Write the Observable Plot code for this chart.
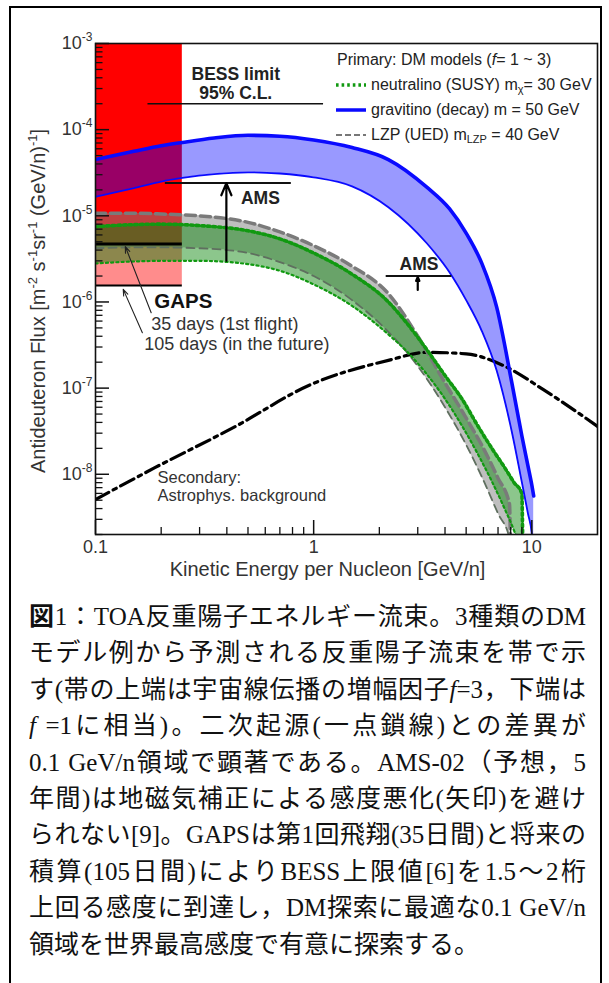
<!DOCTYPE html>
<html lang="ja"><head><meta charset="utf-8">
<script src="https://cdn.jsdelivr.net/npm/d3@7"></script>
<script src="https://cdn.jsdelivr.net/npm/@observablehq/plot@0.6"></script>
<style>
html,body{margin:0;padding:0;background:#fff;}
body{position:relative;width:609px;height:983px;overflow:hidden;}
#frame{position:absolute;left:9px;top:6px;width:593px;height:1010px;border:2px solid #000;box-sizing:border-box;}
#chart{position:absolute;left:0;top:0;}
#legend{position:absolute;left:336px;top:47px;font:16px "Liberation Sans",Arial,sans-serif;color:#222;white-space:nowrap;}
#legend .row{display:flex;align-items:center;height:25px;}
#legend svg{margin-right:5px;flex:none;}
#legend sub{font-size:11px;vertical-align:-3px;line-height:0;}
#caption{position:absolute;left:29px;top:599px;width:557px;font-family:"Liberation Serif","Noto Sans CJK JP",serif;font-size:25px;line-height:36.4px;color:#111;}
#caption .ln{text-align:justify;text-align-last:justify;height:36.4px;overflow:hidden;}
#caption .ln.last{text-align-last:left;}
</style></head><body>
<div id="frame"></div>
<div id="chart"></div>
<div id="legend"></div>
<div id="caption"></div>
<script>
// ---------- data ----------
// gravitino (decay) m = 50 GeV band (f = 3 upper, f = 1 lower)
const gravE  = [0.1, 0.15, 0.2, 0.25, 0.35, 0.5, 0.7, 1.0, 1.5, 2.2, 3.3, 4.2, 5.0, 5.9, 6.9, 8.1, 9.0, 9.6, 10.0, 10.2];
const gravHi = [4.5e-5, 5.6e-5, 6.5e-5, 7.1e-5, 8.0e-5, 8.6e-5, 8.4e-5, 7.6e-5, 6.2e-5, 4.5e-5, 2.15e-5, 1.2e-5, 6.3e-6, 2.8e-6, 8.7e-7, 1.15e-7, 2.8e-8, 1.25e-8, 7.5e-9, 5.6e-9];
const gravLo = [1.66e-5, 2.1e-5, 2.5e-5, 2.75e-5, 3.05e-5, 3.2e-5, 3.1e-5, 2.8e-5, 2.2e-5, 1.26e-5, 4.8e-6, 2.2e-6, 1.05e-6, 4.6e-7, 1.6e-7, 3.1e-8, 8.1e-9, 3.5e-9, 2e-9, 1e-9];
// neutralino (SUSY) m = 30 GeV band
const neutE  = [0.1, 0.15, 0.2, 0.3, 0.5, 0.7, 1.0, 1.5, 2.2, 2.7, 3.3, 4.0, 4.8, 5.6, 6.6, 7.5, 8.3, 9.0, 9.1];
const neutHi = [7.5e-6, 7.9e-6, 8.0e-6, 7.7e-6, 6.7e-6, 5.4e-6, 3.7e-6, 2.1e-6, 1.0e-6, 5.5e-7, 2.8e-7, 1.4e-7, 7.4e-8, 3.8e-8, 1.95e-8, 1.2e-8, 8e-9, 6e-9, 1e-9];
const neutLo = [2.8e-6, 2.95e-6, 3.0e-6, 3.0e-6, 2.75e-6, 2.3e-6, 1.6e-6, 9e-7, 4.2e-7, 2.6e-7, 1.45e-7, 7.5e-8, 3.6e-8, 1.8e-8, 8e-9, 4e-9, 2.2e-9, 1.2e-9, 1e-9];
// LZP (UED) m = 40 GeV band
const lzpE  = [0.1, 0.15, 0.2, 0.3, 0.5, 0.7, 1.0, 1.5, 2.2, 3.0, 4.0, 5.0, 6.0, 7.0, 7.9, 8.0];
const lzpHi = [1.07e-5, 1.07e-5, 1.05e-5, 1.0e-5, 8.4e-6, 6.5e-6, 4.5e-6, 2.6e-6, 1.25e-6, 4.0e-7, 1.15e-7, 4.5e-8, 2.0e-8, 9e-9, 4.5e-9, 1e-9];
const lzpLo = [4.2e-6, 4.3e-6, 4.3e-6, 4.2e-6, 3.7e-6, 2.9e-6, 2.0e-6, 1.05e-6, 4.5e-7, 1.8e-7, 6e-8, 2.2e-8, 8.5e-9, 3.5e-9, 1.8e-9, 1e-9];
// secondary (astrophysical background)
const secE    = [0.1, 0.188, 0.43, 0.97, 2.2, 3.3, 5.0, 7.5, 11.3, 20];
const secFlux = [5.1e-9, 1.2e-8, 3.5e-8, 1.1e-7, 2.1e-7, 2.6e-7, 2.5e-7, 1.8e-7, 9.6e-8, 3.6e-8];
// GAPS sensitivity
const gapsE      = [0.1, 0.25];
const gapsFlux   = [4.7e-6, 1.55e-6];
const gapsLabels = ["35 days (1st flight)", "105 days (in the future)"];
// BESS limit
const bessE = [0.174, 1.11];
const bessFlux = 2.0e-4;
// AMS sensitivities
const amsE = [[0.209, 0.79], [2.15, 4.3]];
const amsFlux = [2.4e-5, 2.0e-6];
const amsArrowE = [0.398, 3.0];
const amsArrowFrom = [3.0e-6, 1.38e-6];
const amsArrowTo = [2.4e-5, 1.95e-6];
// axes
const xDomain = [0.1, 20];
const yDomain = [2e-9, 1e-3];
const xTicks = [0.1, 1, 10];
const xTickLabels = ["0.1", "1", "10"];
const yTicks = [1e-3, 1e-4, 1e-5, 1e-6, 1e-7, 1e-8];
const yTickLabels = ["10^{-3}", "10^{-4}", "10^{-5}", "10^{-6}", "10^{-7}", "10^{-8}"];
const xTitle = "Kinetic Energy per Nucleon [GeV/n]";
const yTitle = "Antideuteron Flux [m^{-2} s^{-1}sr^{-1} (GeV/n)^{-1}]";
const legendTitle = 'Primary: DM models ( <i>f</i> = 1 ~ 3)';
const legendItems = [
  {label: 'neutralino (SUSY) m<sub>χ</sub>= 30 GeV', stroke: "#119911", width: 3.5, dash: "2.6,3"},
  {label: 'gravitino (decay) m = 50 GeV', stroke: "#0a0aff", width: 3.5, dash: null},
  {label: 'LZP (UED) m<sub>LZP</sub> = 40 GeV', stroke: "#777", width: 2.2, dash: "6,3"}
];
const captionLines = [
  '<b>図</b>1：TOA反重陽子エネルギー流束。3種類のDM',
  'モデル例から予測される反重陽子流束を帯で示',
  'す(帯の上端は宇宙線伝播の増幅因子<i>f</i>=3，下端は',
  '<i>f</i> =1に相当)。二次起源(一点鎖線)との差異が',
  '0.1 GeV/n領域で顕著である。AMS-02（予想，5',
  '年間)は地磁気補正による感度悪化(矢印)を避け',
  'られない[9]。GAPSは第1回飛翔(35日間)と将来の',
  '積算(105日間)によりBESS上限値[6]を1.5～2桁',
  '上回る感度に到達し，DM探索に最適な0.1 GeV/n',
  '領域を世界最高感度で有意に探索する。'
];

// ---------- build ----------
const band = (E, hi, lo) => E.map((e, i) => ({e, hi: hi[i], lo: lo[i]}));
const grav = band(gravE, gravHi, gravLo);
const neut = band(neutE, neutHi, neutLo);
const lzp = band(lzpE, lzpHi, lzpLo);
const sec = secE.map((e, i) => ({e, f: secFlux[i]}));
const xMinor = [2,3,4,5,6,7,8,9].flatMap(m => [m * 0.1, m]);
const yMinor = d3.range(-9, -3).flatMap(k => d3.range(2, 10).map(m => m * Math.pow(10, k))).filter(v => v >= yDomain[0] && v < yDomain[1]);
const amsRules = amsE.map((r, i) => ({e1: r[0], e2: r[1], f: amsFlux[i]}));
const amsArrows = amsArrowE.map((e, i) => ({e, f1: amsArrowFrom[i], f2: amsArrowTo[i]}));
const gapsRules = gapsFlux.map((f, i) => ({e1: gapsE[0], e2: gapsE[1], f, w: i === 0 ? 3 : 2}));
const font = "Liberation Sans, Arial, sans-serif";
const C = "monotone-x";

const marks = [
  Plot.rect([0], {x1: gapsE[0], x2: gapsE[1], y1: gapsFlux[0], y2: yDomain[1], fill: "#ff0000"}),
  Plot.rect([0], {x1: gapsE[0], x2: gapsE[1], y1: gapsFlux[1], y2: gapsFlux[0], fill: "#ff8c8c"}),
  Plot.areaY(lzp, {x: "e", y1: "lo", y2: "hi", fill: "#808080", fillOpacity: 0.5, curve: C, clip: true}),
  Plot.areaY(neut, {x: "e", y1: "lo", y2: "hi", fill: "#008000", fillOpacity: 0.45, curve: C, clip: true}),
  Plot.areaY(grav, {x: "e", y1: "lo", y2: "hi", fill: "#0000ff", fillOpacity: 0.4, curve: C, clip: true}),
  Plot.line(sec, {x: "e", y: "f", stroke: "#000", strokeWidth: 3.2, strokeDasharray: "15,5,3.5,5", curve: C, clip: true}),
  Plot.line(lzp, {x: "e", y: "lo", stroke: "#5f6f5f", strokeWidth: 1.8, strokeDasharray: "8,5", curve: C, clip: true}),
  Plot.line(lzp, {x: "e", y: "hi", stroke: "#7a7a7a", strokeWidth: 3.5, strokeDasharray: "10,5", curve: C, clip: true}),
  Plot.line(neut, {x: "e", y: "lo", stroke: "#119911", strokeWidth: 2.2, strokeDasharray: "2.2,3", curve: C, clip: true}),
  Plot.line(neut, {x: "e", y: "hi", stroke: "#119911", strokeWidth: 3.6, strokeDasharray: "2.6,3", curve: C, clip: true}),
  Plot.line(grav, {x: "e", y: "lo", stroke: "#0a0aff", strokeWidth: 1.8, curve: C, clip: true}),
  Plot.line(grav, {x: "e", y: "hi", stroke: "#0a0aff", strokeWidth: 3.6, curve: C, clip: true}),
  Plot.ruleY(gapsRules, {y: "f", x1: "e1", x2: "e2", stroke: "#000", strokeWidth: "w"}),
  Plot.ruleY([bessFlux], {x1: bessE[0], x2: bessE[1], stroke: "#111", strokeWidth: 1.6}),
  Plot.ruleY(amsRules, {y: "f", x1: "e1", x2: "e2", stroke: "#111", strokeWidth: 2}),
  Plot.arrow(amsArrows, {x1: "e", x2: "e", y1: "f1", y2: "f2", stroke: "#000", strokeWidth: 2.2, headLength: 9, headAngle: 45}),
  // GAPS pointer arrows
  Plot.arrow([0], {x1: 0.180, y1: 7.5e-7, x2: 0.137, y2: 4.4e-6, stroke: "#222", strokeWidth: 1.1, headLength: 9, headAngle: 40}),
  Plot.arrow([0], {x1: 0.164, y1: 4.4e-7, x2: 0.134, y2: 1.4e-6, stroke: "#222", strokeWidth: 1.1, headLength: 9, headAngle: 40}),
  // texts
  Plot.text(["BESS limit\n95% C.L."], {x: Math.sqrt(bessE[0] * bessE[1]), y: bessFlux, text: d => d, dy: -20.5, lineAnchor: "middle", lineHeight: 1.09, fontSize: 17.5, fontWeight: "bold", fill: "#222", fontFamily: font}),
  Plot.text(["AMS"], {x: amsArrowE[0], y: amsFlux[0], text: d => d, dx: 34, dy: 15, fontSize: 17.5, fontWeight: "bold", fill: "#222", fontFamily: font}),
  Plot.text(["AMS"], {x: Math.sqrt(amsE[1][0] * amsE[1][1]), y: amsFlux[1], text: d => d, dy: -12, fontSize: 17.5, fontWeight: "bold", fill: "#222", fontFamily: font}),
  Plot.text(["GAPS"], {x: gapsE[1], y: gapsFlux[1], text: d => d, dx: 1, dy: 16, fontSize: 20.5, fontWeight: "bold", fill: "#111", fontFamily: font}),
  ...gapsLabels.map((t, i) => Plot.text([t], {x: gapsE[1], y: gapsFlux[1], text: d => d, textAnchor: "start", dx: [-31, -38][i], dy: [39, 59][i], fontSize: 18, fill: "#333", fontFamily: font})),
  Plot.text(["Secondary:\nAstrophys. background"], {frameAnchor: "bottom-left", text: d => d, textAnchor: "start", lineAnchor: "middle", lineHeight: 1.09, dx: 62, dy: -48, fontSize: 16.5, fill: "#333", fontFamily: font}),
  Plot.text([xTitle], {frameAnchor: "bottom", text: d => d, textAnchor: "middle", lineAnchor: "middle", dx: -19, dy: 35, fontSize: 20, fill: "#333", fontFamily: font}),
  Plot.text([yTitle], {frameAnchor: "left", text: d => d, textAnchor: "middle", lineAnchor: "middle", rotate: -90, dx: -57, dy: 12, fontSize: 20, fill: "#333", fontFamily: font}),
  // axes
  Plot.axisY(yMinor, {tickSize: -7.5, tickFormat: () => "", label: null, strokeWidth: 1.3}),
  Plot.axisY(yTicks, {tickSize: -14, tickFormat: () => "", label: null, strokeWidth: 1.5}),
  Plot.axisY(yTicks, {tickSize: 0, tickPadding: 3, tickFormat: d => yTickLabels[yTicks.indexOf(d)], label: null, fontSize: 18, fill: "#333", fontFamily: font}),
  Plot.axisX(xMinor, {tickSize: -7, tickFormat: () => "", label: null, strokeWidth: 1.3}),
  Plot.axisX(xTicks, {tickSize: -14, tickFormat: () => "", label: null, strokeWidth: 1.5}),
  Plot.axisX(xTicks, {tickSize: 0, tickPadding: 6, tickFormat: d => xTickLabels[xTicks.indexOf(d)], label: null, fontSize: 18, fill: "#333", fontFamily: font}),
  Plot.frame({stroke: "#111", strokeWidth: 1.6})
];

const svg = Plot.plot({
  width: 609, height: 600,
  marginLeft: 95, marginRight: 12, marginTop: 43, marginBottom: 66,
  x: {type: "log", domain: xDomain},
  y: {type: "log", domain: yDomain},
  style: {fontFamily: font, color: "#111", background: "transparent", overflow: "visible"},
  marks
});
document.getElementById("chart").appendChild(svg);

// superscripts: turn "^{..}" into raised tspans
const NS = "http://www.w3.org/2000/svg";
svg.querySelectorAll("text").forEach(el => {
  if (!el.textContent.includes("^{")) return;
  const big = parseFloat(el.getAttribute("font-size") || getComputedStyle(el).fontSize) || 18;
  const small = Math.round(big * 0.66), rise = Math.round(big * 0.42);
  const parts = el.textContent.split(/(\^\{[^}]*\})/);
  el.textContent = "";
  let raised = false;
  for (const p of parts) {
    if (!p) continue;
    const t = document.createElementNS(NS, "tspan");
    if (p.startsWith("^{")) {
      t.textContent = p.slice(2, -1);
      t.setAttribute("font-size", small);
      t.setAttribute("dy", raised ? 0 : -rise);
      raised = true;
    } else {
      t.textContent = p;
      if (raised) { t.setAttribute("dy", rise); raised = false; }
    }
    el.appendChild(t);
  }
});

// legend
const lg = document.getElementById("legend");
lg.innerHTML = `<div class="row" style="padding-left:1px">${legendTitle}</div>` +
  legendItems.map(it => `<div class="row"><svg width="30" height="8"><line x1="0" y1="4" x2="30" y2="4" stroke="${it.stroke}" stroke-width="${it.width}" ${it.dash ? `stroke-dasharray="${it.dash}"` : ""}/></svg><span>${it.label}</span></div>`).join("");

// caption
document.getElementById("caption").innerHTML = captionLines.map((l, i) => `<div class="ln${i === captionLines.length - 1 ? " last" : ""}">${l}</div>`).join("");
</script>
</body></html>
